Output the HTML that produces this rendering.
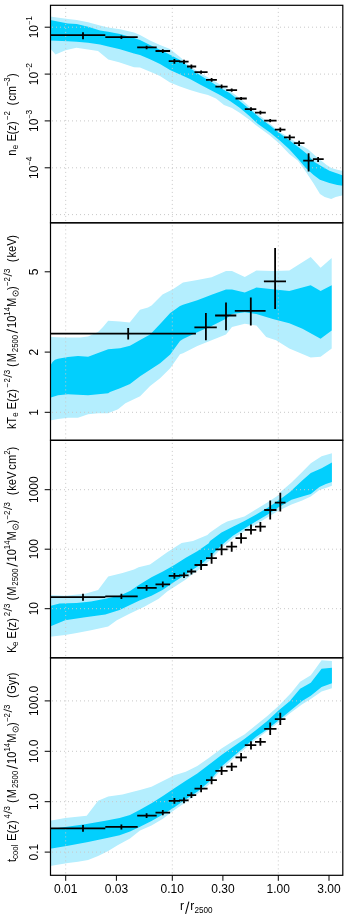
<!DOCTYPE html>
<html><head><meta charset="utf-8"><title>profiles</title>
<style>html,body{margin:0;padding:0;background:#fff}svg{display:block;will-change:transform;opacity:0.999}text{font-family:"Liberation Sans",sans-serif;fill:#000}</style></head>
<body>
<svg width="349" height="916" viewBox="0 0 349 916">
<rect width="349" height="916" fill="#fff"/>
<defs>
<clipPath id="c1"><rect x="50.5" y="5.3" width="292.3" height="217.5"/></clipPath>
<clipPath id="c2"><rect x="50.5" y="222.8" width="292.3" height="217.5"/></clipPath>
<clipPath id="c3"><rect x="50.5" y="440.3" width="292.3" height="217.5"/></clipPath>
<clipPath id="c4"><rect x="50.5" y="657.8" width="292.3" height="217.5"/></clipPath>
</defs>
<g clip-path="url(#c1)">
<polygon fill="#b4eefe" points="50.0,16.5 68.0,19.0 76.7,20.0 88.1,22.3 100.0,25.4 108.2,27.6 120.0,29.3 134.0,32.5 140.0,35.0 150.0,40.5 160.0,45.0 170.0,49.0 180.0,57.0 190.0,66.0 200.0,73.0 210.0,78.6 220.0,84.6 230.0,91.0 240.0,98.3 250.0,107.0 260.0,115.8 270.0,123.8 280.0,131.9 289.3,137.8 298.6,143.7 308.0,149.2 317.3,157.6 326.6,165.0 331.5,168.0 337.3,169.8 343.0,171.0 343.0,195.3 335.7,197.0 331.2,198.9 324.7,197.0 320.0,193.9 313.6,183.6 305.8,171.8 297.9,160.8 289.3,153.9 280.0,144.2 270.0,135.6 256.0,125.3 250.0,120.3 240.0,113.0 232.0,108.0 224.0,105.0 216.0,98.5 208.0,95.0 200.0,93.0 190.0,90.0 180.0,86.5 170.0,82.5 160.0,76.0 152.0,72.5 140.0,67.5 134.0,67.2 119.0,62.3 108.3,59.6 98.0,51.0 88.1,49.6 76.4,47.8 65.5,50.2 55.5,54.4 50.0,48.3"/>
<polygon fill="#02cffd" points="50.0,20.0 68.0,23.4 76.7,24.0 88.1,26.8 100.0,30.5 108.2,31.7 120.0,34.0 134.0,38.0 140.0,40.0 150.0,45.0 160.0,49.8 170.0,54.8 180.0,60.0 190.0,68.0 200.0,75.2 210.0,81.3 220.0,87.7 230.0,93.3 240.0,101.2 250.0,109.5 260.0,118.0 270.0,125.5 280.0,133.5 289.3,140.3 298.6,147.2 308.0,154.8 313.6,161.6 321.5,166.3 329.4,170.7 337.3,173.4 343.0,175.4 343.0,185.8 337.3,184.9 329.4,182.9 319.9,179.7 313.6,175.0 305.8,167.9 298.6,159.5 289.3,149.2 280.0,140.8 270.0,132.5 258.0,124.0 250.0,116.5 240.0,108.0 230.0,101.0 220.0,95.0 210.0,89.8 200.0,84.5 190.0,79.0 180.0,74.5 170.0,70.0 160.0,64.0 150.0,59.3 140.0,55.0 134.0,53.5 120.0,49.2 108.2,46.5 100.0,44.5 88.1,42.8 76.7,41.7 68.0,41.2 50.0,40.5"/>
<path d="M50.5 27.2H342.8M50.5 74.1H342.8M50.5 120.9H342.8M50.5 167.8H342.8M50.5 214.6H342.8" stroke="#c8c8c8" stroke-width="1" stroke-dasharray="1 3" stroke-dashoffset="2.5" fill="none"/>
<path d="M65.7 5.3V222.8M172.3 5.3V222.8M278.3 5.3V222.8" stroke="#c8c8c8" stroke-width="1" stroke-dasharray="1 3" stroke-dashoffset="1.4" fill="none"/>
<path d="M44.0 35.2H105.3M83.0 32.3V39.2M105.3 37.2H137.7M121.4 35.6V39.1M137.2 47.4H156.7M146.6 45.7V49.3M155.5 51.0H170.1M162.8 49.3V52.9M168.7 61.2H180.1M174.4 59.0V63.7M179.0 61.7H188.6M184.0 59.7V64.0M187.0 66.5H196.2M191.4 64.5V68.7M194.5 72.2H207.6M201.1 70.5V73.7M206.0 79.8H216.9M211.6 78.0V81.8M215.4 86.6H227.6M221.6 84.6V88.6M226.2 90.1H237.1M231.7 88.4V91.7M235.5 98.5H246.8M241.1 97.0V100.0M244.8 109.2H256.3M251.0 107.2V111.1M255.0 112.6H265.8M260.4 110.7V114.5M264.2 120.7H276.5M270.2 118.9V122.3M274.8 129.7H285.5M280.3 127.5V132.0M284.0 137.4H294.9M289.7 134.7V140.3M293.8 143.2H304.5M299.1 140.8V145.9M303.2 160.6H313.8M308.6 153.3V171.6M312.9 159.2H323.7M318.1 157.0V161.9" stroke="#000" stroke-width="1.8" fill="none"/>
</g>
<g clip-path="url(#c2)">
<polygon fill="#b4eefe" points="50.0,337.0 65.0,337.4 80.0,337.6 88.0,336.6 98.0,332.0 103.0,327.0 108.2,320.8 120.0,321.6 129.7,322.4 140.0,309.8 148.0,307.5 151.5,305.5 157.0,300.0 162.5,294.5 172.5,289.5 183.0,282.4 197.3,280.1 211.6,277.2 226.0,271.0 232.0,271.0 244.8,277.1 256.4,270.5 272.8,271.1 289.3,270.5 310.7,257.0 320.6,267.8 331.7,258.0 331.7,348.6 320.6,356.8 310.7,357.5 289.3,348.6 276.1,340.3 266.2,337.0 256.4,325.5 244.8,323.8 232.0,327.1 226.0,334.6 211.6,340.3 197.3,346.0 183.0,353.2 180.0,354.2 170.2,368.2 160.1,378.2 150.1,385.9 140.1,396.3 125.4,403.2 118.0,409.2 108.2,413.2 98.1,413.2 88.1,414.2 78.0,417.7 68.0,417.7 58.0,418.9 50.0,420.5"/>
<polygon fill="#02cffd" points="50.0,366.0 52.5,362.0 55.0,359.8 58.0,358.7 68.0,357.1 78.0,356.1 88.1,356.7 98.1,353.1 108.2,349.2 120.0,348.2 130.0,345.8 140.1,340.1 150.1,334.5 160.1,324.1 170.2,313.1 180.0,306.0 183.0,304.8 197.3,300.3 211.6,294.8 226.0,289.6 232.0,289.5 244.8,292.5 256.4,287.6 272.8,289.3 289.3,290.9 310.7,285.3 320.6,290.9 331.7,285.3 331.7,330.4 320.6,338.7 302.5,328.8 289.3,323.2 272.8,318.9 256.4,314.0 244.8,312.3 232.0,314.0 226.0,318.8 211.6,326.0 197.3,332.3 183.0,338.9 180.0,341.1 170.2,354.6 160.1,363.2 150.1,369.8 140.1,376.2 130.0,383.9 120.0,388.3 110.0,391.9 108.2,393.2 98.1,394.2 88.1,395.2 78.0,394.8 68.0,394.2 58.0,395.2 50.0,397.8"/>
<path d="M50.5 412.3H342.8" stroke="#c8c8c8" stroke-width="1" stroke-dasharray="1 3" stroke-dashoffset="2.5" fill="none"/>
<path d="M65.7 222.8V440.3M172.3 222.8V440.3M278.3 222.8V440.3" stroke="#c8c8c8" stroke-width="1" stroke-dasharray="1 3" stroke-dashoffset="1.4" fill="none"/>
<path d="M44.0 333.6H195.9M128.2 328.1V339.5M194.4 327.4H216.8M205.9 313.0V340.3M215.1 315.5H236.3M226.0 302.5V330.3M234.8 310.8H265.6M250.8 297.5V325.5M263.9 281.3H286.0M275.1 248.1V309.0" stroke="#000" stroke-width="1.8" fill="none"/>
</g>
<g clip-path="url(#c3)">
<polygon fill="#b4eefe" points="50.0,595.0 65.2,595.8 85.2,593.8 98.1,590.1 108.2,576.6 122.5,572.9 134.0,569.5 138.6,567.2 150.0,564.4 167.2,552.3 181.6,542.9 193.0,540.9 207.4,535.0 210.0,532.6 221.5,524.4 227.2,521.6 244.4,516.4 255.8,509.5 267.3,502.6 278.8,495.0 280.7,491.8 291.5,482.6 302.2,471.9 310.8,463.3 321.6,456.2 331.9,453.2 331.9,485.8 325.9,488.0 319.4,490.1 310.8,496.6 302.2,500.4 291.5,504.6 278.8,510.6 267.3,517.5 255.8,524.4 244.4,531.3 232.9,538.6 221.5,548.0 211.6,558.8 201.1,568.0 191.4,575.0 185.8,579.5 175.8,585.9 167.2,591.6 158.7,598.8 144.3,606.8 130.0,613.5 116.8,620.2 108.2,626.5 91.0,630.2 76.7,633.1 65.2,635.1 50.0,636.8"/>
<polygon fill="#02cffd" points="50.0,606.0 59.5,603.6 76.7,603.0 91.0,601.5 105.3,598.7 119.6,595.8 130.0,591.0 140.0,584.2 151.5,577.3 162.9,571.5 174.4,565.0 185.8,557.8 197.3,551.2 208.8,543.3 210.0,540.9 221.5,532.4 232.9,526.7 244.4,520.9 255.8,514.8 267.3,507.9 278.8,500.3 290.0,492.0 291.5,490.6 302.2,480.5 310.8,472.9 321.6,468.2 331.9,462.6 331.9,482.0 325.9,484.1 319.4,486.9 310.8,494.0 302.2,496.6 291.5,499.7 278.8,507.2 267.3,514.8 255.8,521.6 244.4,528.5 232.9,535.8 221.5,545.2 211.6,555.3 201.1,564.3 191.4,570.5 185.8,574.5 174.4,581.8 162.9,589.8 151.5,595.8 140.0,600.2 130.0,605.0 119.6,610.1 105.3,614.4 85.2,617.3 65.2,620.2 50.0,626.5"/>
<path d="M50.5 489.7H342.8M50.5 549.2H342.8M50.5 608.7H342.8" stroke="#c8c8c8" stroke-width="1" stroke-dasharray="1 3" stroke-dashoffset="2.5" fill="none"/>
<path d="M65.7 440.3V657.8M172.3 440.3V657.8M278.3 440.3V657.8" stroke="#c8c8c8" stroke-width="1" stroke-dasharray="1 3" stroke-dashoffset="1.4" fill="none"/>
<path d="M44.0 597.2H105.3M83.0 593.8V600.7M105.3 596.3H137.7M121.4 593.8V599.0M137.2 587.9H156.7M146.6 585.0V590.7M155.5 584.4H170.1M162.8 581.6V587.3M168.7 575.8H180.1M174.4 573.0V578.7M179.0 575.3H188.6M184.0 572.4V578.1M187.0 571.5H196.2M191.4 568.7V574.4M194.5 565.0H207.6M201.1 560.0V570.0M206.0 558.1H216.9M211.6 553.0V563.8M215.4 549.3H227.6M221.6 544.3V555.2M226.2 546.7H237.1M231.7 541.7V551.7M235.5 538.1H246.8M241.1 533.1V543.5M244.8 529.9H256.3M251.0 524.5V534.5M255.0 526.7H265.8M260.4 522.0V531.7M264.2 510.0H276.5M270.2 500.5V519.5M274.8 502.6H285.5M280.3 492.7V511.5" stroke="#000" stroke-width="1.8" fill="none"/>
</g>
<g clip-path="url(#c4)">
<polygon fill="#b4eefe" points="50.0,820.8 65.2,818.0 86.7,815.7 98.1,800.8 108.2,796.5 122.5,794.5 134.0,791.6 140.0,790.1 151.5,786.7 162.9,780.9 174.4,775.2 185.8,771.8 197.3,766.0 208.8,758.0 221.5,748.6 232.9,741.3 244.4,734.4 255.8,725.2 267.3,716.0 278.8,705.7 291.5,692.5 300.1,681.7 310.8,675.3 321.6,660.2 331.9,660.9 331.9,688.2 321.6,691.4 310.8,698.9 302.2,704.3 290.0,713.3 278.8,722.5 267.3,730.9 255.8,739.4 244.4,749.3 232.9,759.1 221.5,769.2 208.8,784.8 197.3,794.0 185.8,802.3 174.4,810.0 162.9,818.8 151.5,825.6 140.0,830.6 130.0,838.5 118.0,845.0 108.2,851.0 98.1,856.0 88.1,860.1 78.0,861.8 68.0,863.1 50.0,866.1"/>
<polygon fill="#02cffd" points="50.0,828.9 65.2,827.1 85.2,824.3 105.3,820.8 119.6,818.0 130.0,815.0 140.0,809.8 151.5,803.3 162.9,796.0 174.4,788.2 185.8,780.8 197.3,773.4 208.8,764.8 221.5,755.0 232.9,747.0 244.4,739.0 255.8,730.3 267.3,721.1 278.8,710.3 290.0,701.1 291.5,698.9 300.1,688.8 310.8,682.8 321.6,668.8 331.9,667.7 331.9,683.2 321.6,687.1 310.8,695.7 302.2,701.1 290.0,711.0 278.8,720.2 267.3,729.3 255.8,737.1 244.4,747.0 232.9,756.8 221.5,766.5 210.0,780.8 208.8,782.1 197.3,791.7 185.8,799.3 174.4,807.3 162.9,814.6 151.5,821.1 140.0,826.8 130.0,831.5 119.6,835.2 108.2,837.8 88.1,842.0 68.0,845.8 50.0,848.7"/>
<path d="M50.5 700.9H342.8M50.5 751.3H342.8M50.5 801.7H342.8M50.5 852.1H342.8" stroke="#c8c8c8" stroke-width="1" stroke-dasharray="1 3" stroke-dashoffset="2.5" fill="none"/>
<path d="M65.7 657.8V875.3M172.3 657.8V875.3M278.3 657.8V875.3" stroke="#c8c8c8" stroke-width="1" stroke-dasharray="1 3" stroke-dashoffset="1.4" fill="none"/>
<path d="M44.0 828.4H105.3M83.0 825.1V831.7M105.3 826.8H137.7M121.4 824.6V829.4M137.2 815.7H156.7M146.6 813.2V818.1M155.5 812.6H170.1M162.8 810.0V815.2M168.7 800.9H180.1M174.4 798.0V803.7M179.0 800.3H188.6M184.0 797.4V803.2M187.0 795.1H196.2M191.4 792.3V798.0M194.5 788.6H207.6M201.1 785.1V792.3M206.0 780.2H216.9M211.6 776.5V784.3M215.4 770.8H227.6M221.6 766.5V775.1M226.2 766.6H237.1M231.7 762.7V770.9M235.5 757.3H246.8M241.1 753.0V761.6M244.8 745.1H256.3M251.0 741.2V749.4M255.0 741.9H265.8M260.4 738.0V745.8M264.2 728.8H276.5M270.2 722.5V735.1M274.8 719.2H285.5M280.3 712.8V725.0" stroke="#000" stroke-width="1.8" fill="none"/>
</g>
<rect x="50.5" y="5.3" width="292.3" height="217.5" fill="none" stroke="#000" stroke-width="1.2"/>
<rect x="50.5" y="222.8" width="292.3" height="217.5" fill="none" stroke="#000" stroke-width="1.2"/>
<rect x="50.5" y="440.3" width="292.3" height="217.5" fill="none" stroke="#000" stroke-width="1.2"/>
<rect x="50.5" y="657.8" width="292.3" height="217.5" fill="none" stroke="#000" stroke-width="1.2"/>
<path d="M50.5 27.2H44.7M50.5 74.1H44.7M50.5 120.9H44.7M50.5 167.8H44.7M50.5 271.8H44.7M50.5 352.1H44.7M50.5 412.3H44.7M50.5 489.7H44.7M50.5 549.2H44.7M50.5 608.7H44.7M50.5 700.9H44.7M50.5 751.3H44.7M50.5 801.7H44.7M50.5 852.1H44.7M65.7 875.3V880.8M116.4 875.3V880.8M172.3 875.3V880.8M222.9 875.3V880.8M278.3 875.3V880.8M329.0 875.3V880.8" stroke="#000" stroke-width="1" fill="none"/>
<text x="65.7" y="893.4" font-size="12" text-anchor="middle">0.01</text>
<text x="116.4" y="893.4" font-size="12" text-anchor="middle">0.03</text>
<text x="172.3" y="893.4" font-size="12" text-anchor="middle">0.10</text>
<text x="222.9" y="893.4" font-size="12" text-anchor="middle">0.30</text>
<text x="278.3" y="893.4" font-size="12" text-anchor="middle">1.00</text>
<text x="329.0" y="893.4" font-size="12" text-anchor="middle">3.00</text>
<text x="180.0" y="910.1" font-size="12">r</text><path d="M185.6 913.8L188.9 901.6" stroke="#000" stroke-width="1.05" fill="none"/><text x="190.2" y="910.1" font-size="12">r</text><text x="194.4" y="913.2" font-size="8.4" textLength="18.1" lengthAdjust="spacingAndGlyphs">2500</text>
<text transform="translate(38.2 27.2) rotate(-90)" font-size="12" text-anchor="middle">10<tspan font-size="7.2" dy="-6.1">&#8722;</tspan><tspan font-size="8.4">1</tspan></text>
<text transform="translate(38.2 74.1) rotate(-90)" font-size="12" text-anchor="middle">10<tspan font-size="7.2" dy="-6.1">&#8722;</tspan><tspan font-size="8.4">2</tspan></text>
<text transform="translate(38.2 120.9) rotate(-90)" font-size="12" text-anchor="middle">10<tspan font-size="7.2" dy="-6.1">&#8722;</tspan><tspan font-size="8.4">3</tspan></text>
<text transform="translate(38.2 167.8) rotate(-90)" font-size="12" text-anchor="middle">10<tspan font-size="7.2" dy="-6.1">&#8722;</tspan><tspan font-size="8.4">4</tspan></text>
<text transform="translate(38.2 271.8) rotate(-90)" font-size="12" text-anchor="middle">5</text>
<text transform="translate(38.2 352.1) rotate(-90)" font-size="12" text-anchor="middle">2</text>
<text transform="translate(38.2 412.3) rotate(-90)" font-size="12" text-anchor="middle">1</text>
<text transform="translate(38.2 489.7) rotate(-90)" font-size="12" text-anchor="middle">1000</text>
<text transform="translate(38.2 549.2) rotate(-90)" font-size="12" text-anchor="middle">100</text>
<text transform="translate(38.2 608.7) rotate(-90)" font-size="12" text-anchor="middle">10</text>
<text transform="translate(38.2 700.9) rotate(-90)" font-size="12" text-anchor="middle">100.0</text>
<text transform="translate(38.2 751.3) rotate(-90)" font-size="12" text-anchor="middle">10.0</text>
<text transform="translate(38.2 801.7) rotate(-90)" font-size="12" text-anchor="middle">1.0</text>
<text transform="translate(38.2 852.1) rotate(-90)" font-size="12" text-anchor="middle">0.1</text>
<text transform="translate(16.20 155.74) rotate(-90) scale(0.93 1)" font-size="12">n</text>
<text transform="translate(18.20 149.13) rotate(-90) scale(0.93 1)" font-size="8.4">e</text>
<text transform="translate(16.20 141.43) rotate(-90) scale(0.93 1)" font-size="12">E</text>
<text transform="translate(16.20 134.40) rotate(-90) scale(0.93 1)" font-size="12">(z)</text>
<text transform="translate(10.40 120.02) rotate(-90) scale(0.93 1)" font-size="8.4">&#8722;</text>
<text transform="translate(10.40 115.38) rotate(-90) scale(0.93 1)" font-size="8.4">2</text>
<text transform="translate(16.20 105.50) rotate(-90) scale(0.93 1)" font-size="12">(</text>
<text transform="translate(16.20 100.77) rotate(-90) scale(0.93 1)" font-size="12">cm</text>
<text transform="translate(10.40 85.92) rotate(-90) scale(0.93 1)" font-size="8.4">&#8722;</text>
<text transform="translate(10.40 81.68) rotate(-90) scale(0.93 1)" font-size="8.4">3</text>
<text transform="translate(16.20 77.11) rotate(-90) scale(0.93 1)" font-size="12">)</text>
<text transform="translate(16.20 429.04) rotate(-90) scale(0.93 1)" font-size="12">k</text>
<text transform="translate(16.20 423.73) rotate(-90) scale(0.93 1)" font-size="12">T</text>
<text transform="translate(18.20 416.83) rotate(-90) scale(0.93 1)" font-size="8.4">e</text>
<text transform="translate(16.20 409.53) rotate(-90) scale(0.93 1)" font-size="12">E</text>
<text transform="translate(16.20 402.00) rotate(-90) scale(0.93 1)" font-size="12">(z)</text>
<text transform="translate(10.40 387.62) rotate(-90) scale(0.93 1)" font-size="8.4">&#8722;</text>
<text transform="translate(10.40 382.58) rotate(-90) scale(0.93 1)" font-size="8.4">2</text>
<path d="M12 377.30L3.5 374.60" stroke="#000" stroke-width="0.85" fill="none"/>
<text transform="translate(10.40 374.18) rotate(-90) scale(0.93 1)" font-size="8.4">3</text>
<text transform="translate(16.20 367.00) rotate(-90) scale(0.93 1)" font-size="12">(</text>
<text transform="translate(16.20 362.34) rotate(-90) scale(0.93 1)" font-size="12">M</text>
<text transform="translate(18.20 352.18) rotate(-90) scale(0.93 1)" font-size="8.4">2500</text>
<path d="M17.7 332.70L6.6 329.60" stroke="#000" stroke-width="1.05" fill="none"/>
<text transform="translate(16.20 328.01) rotate(-90) scale(0.93 1)" font-size="12">10</text>
<text transform="translate(10.40 315.64) rotate(-90) scale(0.93 1)" font-size="8.4">14</text>
<text transform="translate(16.20 306.94) rotate(-90) scale(0.93 1)" font-size="12">M</text>
<circle cx="15.6" cy="293.40" r="2.7" fill="none" stroke="#000" stroke-width="0.75"/><circle cx="15.6" cy="293.40" r="0.65" fill="#000"/>
<text transform="translate(16.20 290.11) rotate(-90) scale(0.93 1)" font-size="12">)</text>
<text transform="translate(10.40 285.92) rotate(-90) scale(0.93 1)" font-size="8.4">&#8722;</text>
<text transform="translate(10.40 281.58) rotate(-90) scale(0.93 1)" font-size="8.4">2</text>
<path d="M12 276.10L3.5 273.40" stroke="#000" stroke-width="0.85" fill="none"/>
<text transform="translate(10.40 272.98) rotate(-90) scale(0.93 1)" font-size="8.4">3</text>
<text transform="translate(16.20 262.30) rotate(-90) scale(0.93 1)" font-size="12">(</text>
<text transform="translate(16.20 257.54) rotate(-90) scale(0.93 1)" font-size="12">keV</text>
<text transform="translate(16.20 238.81) rotate(-90) scale(0.93 1)" font-size="12">)</text>
<text transform="translate(16.20 652.94) rotate(-90) scale(0.93 1)" font-size="12">K</text>
<text transform="translate(18.20 645.93) rotate(-90) scale(0.93 1)" font-size="8.4">e</text>
<text transform="translate(16.20 638.63) rotate(-90) scale(0.93 1)" font-size="12">E</text>
<text transform="translate(16.20 631.10) rotate(-90) scale(0.93 1)" font-size="12">(z)</text>
<text transform="translate(10.40 616.18) rotate(-90) scale(0.93 1)" font-size="8.4">2</text>
<path d="M12 611.10L3.5 608.40" stroke="#000" stroke-width="0.85" fill="none"/>
<text transform="translate(10.40 607.98) rotate(-90) scale(0.93 1)" font-size="8.4">3</text>
<text transform="translate(16.20 600.50) rotate(-90) scale(0.93 1)" font-size="12">(</text>
<text transform="translate(16.20 595.84) rotate(-90) scale(0.93 1)" font-size="12">M</text>
<text transform="translate(18.20 585.68) rotate(-90) scale(0.93 1)" font-size="8.4">2500</text>
<path d="M17.7 566.20L6.6 563.10" stroke="#000" stroke-width="1.05" fill="none"/>
<text transform="translate(16.20 561.51) rotate(-90) scale(0.93 1)" font-size="12">10</text>
<text transform="translate(10.40 549.14) rotate(-90) scale(0.93 1)" font-size="8.4">14</text>
<text transform="translate(16.20 540.44) rotate(-90) scale(0.93 1)" font-size="12">M</text>
<circle cx="15.6" cy="526.90" r="2.7" fill="none" stroke="#000" stroke-width="0.75"/><circle cx="15.6" cy="526.90" r="0.65" fill="#000"/>
<text transform="translate(16.20 523.61) rotate(-90) scale(0.93 1)" font-size="12">)</text>
<text transform="translate(10.40 519.42) rotate(-90) scale(0.93 1)" font-size="8.4">&#8722;</text>
<text transform="translate(10.40 515.08) rotate(-90) scale(0.93 1)" font-size="8.4">2</text>
<path d="M12 509.60L3.5 506.90" stroke="#000" stroke-width="0.85" fill="none"/>
<text transform="translate(10.40 506.48) rotate(-90) scale(0.93 1)" font-size="8.4">3</text>
<text transform="translate(16.20 495.30) rotate(-90) scale(0.93 1)" font-size="12">(</text>
<text transform="translate(16.20 490.84) rotate(-90) scale(0.93 1)" font-size="12">keV</text>
<text transform="translate(16.20 469.66) rotate(-90) scale(0.93 1)" font-size="12">cm</text>
<text transform="translate(10.40 454.68) rotate(-90) scale(0.93 1)" font-size="8.4">2</text>
<text transform="translate(16.20 450.41) rotate(-90) scale(0.93 1)" font-size="12">)</text>
<text transform="translate(16.20 861.89) rotate(-90) scale(0.93 1)" font-size="12">t</text>
<text transform="translate(18.20 858.93) rotate(-90) scale(0.93 1)" font-size="8.4">cool</text>
<text transform="translate(16.20 840.93) rotate(-90) scale(0.93 1)" font-size="12">E</text>
<text transform="translate(16.20 833.40) rotate(-90) scale(0.93 1)" font-size="12">(z)</text>
<text transform="translate(10.40 818.44) rotate(-90) scale(0.93 1)" font-size="8.4">4</text>
<path d="M12 813.50L3.5 810.80" stroke="#000" stroke-width="0.85" fill="none"/>
<text transform="translate(10.40 810.38) rotate(-90) scale(0.93 1)" font-size="8.4">3</text>
<text transform="translate(16.20 802.90) rotate(-90) scale(0.93 1)" font-size="12">(</text>
<text transform="translate(16.20 798.24) rotate(-90) scale(0.93 1)" font-size="12">M</text>
<text transform="translate(18.20 788.08) rotate(-90) scale(0.93 1)" font-size="8.4">2500</text>
<path d="M17.7 768.60L6.6 765.50" stroke="#000" stroke-width="1.05" fill="none"/>
<text transform="translate(16.20 763.91) rotate(-90) scale(0.93 1)" font-size="12">10</text>
<text transform="translate(10.40 751.54) rotate(-90) scale(0.93 1)" font-size="8.4">14</text>
<text transform="translate(16.20 742.84) rotate(-90) scale(0.93 1)" font-size="12">M</text>
<circle cx="15.6" cy="729.30" r="2.7" fill="none" stroke="#000" stroke-width="0.75"/><circle cx="15.6" cy="729.30" r="0.65" fill="#000"/>
<text transform="translate(16.20 726.01) rotate(-90) scale(0.93 1)" font-size="12">)</text>
<text transform="translate(10.40 721.82) rotate(-90) scale(0.93 1)" font-size="8.4">&#8722;</text>
<text transform="translate(10.40 717.48) rotate(-90) scale(0.93 1)" font-size="8.4">2</text>
<path d="M12 712.00L3.5 709.30" stroke="#000" stroke-width="0.85" fill="none"/>
<text transform="translate(10.40 708.88) rotate(-90) scale(0.93 1)" font-size="8.4">3</text>
<text transform="translate(16.20 698.00) rotate(-90) scale(0.93 1)" font-size="12">(</text>
<text transform="translate(16.20 693.80) rotate(-90) scale(0.93 1)" font-size="12">Gyr</text>
<text transform="translate(16.20 676.21) rotate(-90) scale(0.93 1)" font-size="12">)</text>
</svg></body></html>
